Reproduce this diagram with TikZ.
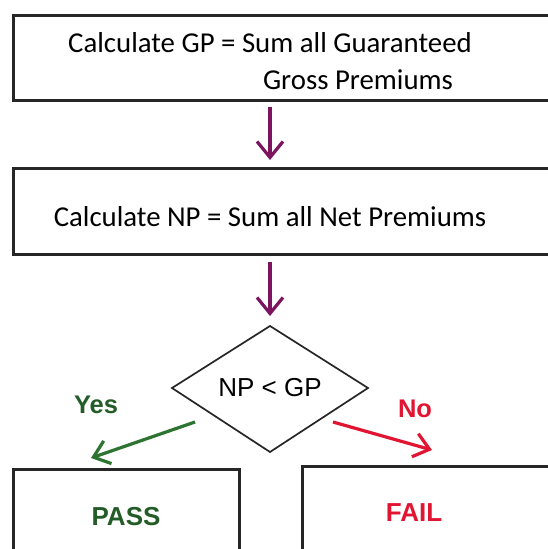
\documentclass[tikz,border=0pt]{standalone}
\usepackage{fontspec}
\setmainfont{Carlito}
\newfontfamily\arialf{Liberation Sans}
\usetikzlibrary{arrows.meta}
\definecolor{arrpurple}{RGB}{125,20,95}
\definecolor{yesgreen}{RGB}{45,115,50}
\definecolor{nored}{RGB}{225,20,50}
\begin{document}
\begin{tikzpicture}[x=1pt,y=-1pt,
  boxst/.style={draw=black!85,line width=2.6pt},
  flow/.style={draw=arrpurple,line width=3.2pt,-{Straight Barb[length=16pt,width=26pt,line width=3.2pt]}},
  txt/.style={inner sep=0pt,font=\fontsize{28.8}{34}\selectfont},
  lbl/.style={inner sep=0pt,font=\arialf\bfseries\fontsize{25.5}{30}\selectfont}]
\useasboundingbox (0,0) rectangle (548,549);
\clip (0,0) rectangle (548,549);
\fill[white] (0,0) rectangle (548,549);
% boxes
\node[boxst,minimum width=560pt,minimum height=85pt,anchor=north west] (box1) at (12,14) {};
\node[boxst,minimum width=560pt,minimum height=86pt,anchor=north west] (box2) at (12,167) {};
\node[boxst,minimum width=226pt,minimum height=100pt,anchor=north west] (pass) at (12,468) {};
\node[boxst,minimum width=260pt,minimum height=100pt,anchor=north west] (fail) at (301,465) {};
% texts
\node[txt] (t1a) at (270,43) {Calculate GP = Sum all Guaranteed};
\node[txt] (t1b) at (358,80) {Gross Premiums};
\node[txt] (t2) at (270,217) {Calculate NP = Sum all Net Premiums};
% diamond
\coordinate (dtop) at (270,326);
\coordinate (dright) at (368,388);
\coordinate (dbot) at (270,452);
\coordinate (dleft) at (172,388);
\draw[line width=1.7pt,draw=black!85] (dtop) -- (dright) -- (dbot) -- (dleft) -- cycle;
\node[inner sep=0pt,font=\arialf\fontsize{26}{30}\selectfont] (dec) at (270,388) {NP < GP};
% arrows
\coordinate (a1s) at (270,107);
\coordinate (a1e) at (270,160);
\draw[flow] (a1s) -- (a1e);
\coordinate (a2s) at (270,262);
\coordinate (a2e) at (270,316);
\draw[flow] (a2s) -- (a2e);
\coordinate (ys) at (195,422);
\coordinate (ye) at (91,458);
\draw[draw=yesgreen,line width=3.2pt,-{Straight Barb[length=15pt,width=24pt,line width=3.2pt]}] (ys) -- (ye);
\coordinate (ns) at (333,422);
\coordinate (ne) at (432,450);
\draw[draw=nored,line width=3.2pt,-{Straight Barb[length=15pt,width=24pt,line width=3.2pt]}] (ns) -- (ne);
% labels
\node[lbl,text=yesgreen!80!black] (yes) at (96,405) {Yes};
\node[lbl,text=nored] (no) at (415,409) {No};
\node[lbl,text=yesgreen!80!black,font=\arialf\bfseries\fontsize{26}{30}\selectfont] (passt) at (126,517) {PASS};
\node[lbl,text=nored,font=\arialf\bfseries\fontsize{26}{30}\selectfont] (failt) at (414,513) {FAIL};
\end{tikzpicture}
\end{document}
